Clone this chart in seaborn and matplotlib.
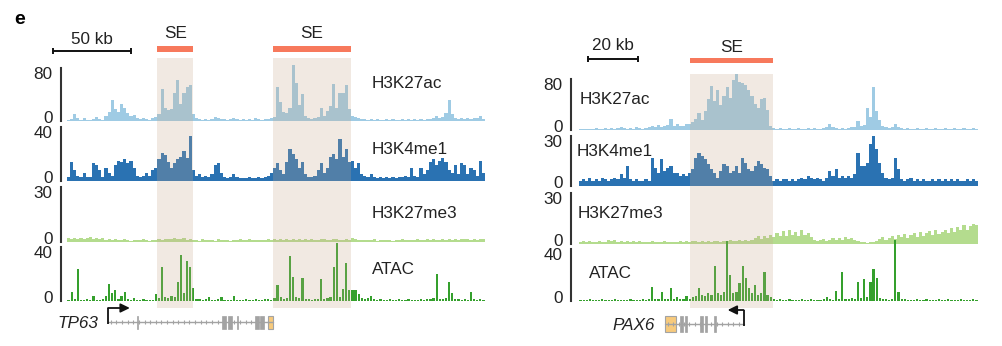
import numpy as np
import pandas as pd
import matplotlib
matplotlib.use("Agg")
import matplotlib.pyplot as plt
from matplotlib.patches import Rectangle
from matplotlib.transforms import ScaledTranslation
import seaborn as sns

sns.set_theme(style="white")
plt.rcParams["font.family"] = ["Liberation Sans", "DejaVu Sans"]

# ---------------- data ----------------
TRACKS = ["H3K27ac", "H3K4me1", "H3K27me3", "ATAC"]

# TP63 locus, 2 kb bins
TP63_BIN_KB = 2.0
tp63_h3k27ac = [
    2, 3, 10, 4, 2, 5, 2, 2, 3, 6,
    3, 2, 8, 14, 32, 18, 14, 26, 20, 12,
    8, 9, 4, 3, 5, 3, 2, 4, 6, 10,
    48, 20, 16, 18, 43, 62, 26, 43, 52, 54,
    10, 4, 3, 2, 3, 2, 3, 6, 4, 3,
    3, 2, 3, 4, 3, 2, 3, 2, 3, 2,
    4, 3, 2, 3, 3, 5, 6, 51, 28, 14,
    12, 20, 84, 58, 24, 41, 8, 4, 3, 4,
    6, 20, 8, 15, 22, 56, 20, 43, 43, 54,
    18, 8, 6, 4, 3, 3, 2, 3, 2, 3,
    2, 2, 3, 2, 3, 2, 2, 3, 2, 3,
    2, 3, 2, 3, 2, 3, 3, 4, 8, 5,
    6, 12, 32, 10, 5, 3, 4, 3, 4, 3,
    4, 5, 8, 3]
tp63_h3k4me1 = [
    3, 14, 8, 4, 3, 6, 3, 3, 13, 12,
    8, 3, 10, 6, 4, 12, 15, 14, 16, 13,
    15, 10, 4, 3, 4, 6, 4, 8, 10, 16,
    21, 19, 14, 10, 13, 16, 18, 22, 17, 33,
    8, 4, 5, 3, 4, 3, 5, 12, 13, 6,
    3, 2, 3, 5, 3, 2, 2, 2, 3, 2,
    2, 3, 2, 3, 4, 6, 10, 13, 8, 5,
    14, 24, 20, 16, 10, 14, 5, 3, 3, 4,
    8, 13, 6, 10, 18, 20, 16, 31, 18, 24,
    14, 15, 10, 13, 5, 4, 3, 5, 3, 2,
    3, 2, 3, 2, 3, 2, 3, 3, 4, 3,
    10, 4, 3, 10, 5, 8, 14, 16, 12, 15,
    17, 14, 8, 6, 12, 5, 13, 12, 5, 10,
    8, 4, 15, 6]
tp63_h3k27me3 = [
    2.0, 1.6, 2.4, 1.8, 2.2, 1.5, 2.0, 2.6, 1.7, 2.1,
    1.9, 2.3, 1.2, 1.6, 1.0, 1.4, 0.9, 1.3, 1.8, 1.0,
    0.8, 1.2, 1.0, 0.9, 1.4, 1.1, 0.8, 1.0, 1.3, 1.6,
    1.2, 1.9, 1.4, 1.7, 2.2, 1.5, 1.8, 2.0, 1.3, 1.6,
    1.0, 1.3, 0.8, 1.5, 0.9, 1.2, 1.0, 0.8, 1.4, 1.1,
    0.9, 1.2, 0.8, 1.3, 1.0, 1.5, 1.1, 0.9, 1.4, 1.2,
    1.0, 1.3, 0.9, 1.1, 1.5, 1.2, 1.6, 1.0, 1.4, 1.2,
    1.8, 1.1, 1.5, 1.3, 1.7, 1.0, 1.4, 1.2, 1.6, 1.3,
    1.1, 1.5, 1.8, 1.2, 1.0, 1.4, 1.9, 1.3, 1.1, 1.6,
    1.2, 2.0, 1.4, 1.0, 1.3, 0.9, 1.2, 1.0, 1.4, 0.8,
    1.1, 0.9, 1.3, 1.0, 0.8, 1.2, 1.0, 1.4, 0.9, 1.1,
    1.3, 1.0, 1.5, 1.1, 0.9, 1.4, 1.2, 1.6, 1.0, 1.3,
    1.5, 1.1, 1.7, 1.3, 1.9, 1.2, 1.6, 1.4, 1.8, 1.3,
    1.5, 1.2, 1.7, 1.4]
tp63_atac = [
    1.0, 7, 1.2, 23.5, 1.0, 0.8, 1.2, 1.0, 4, 1.0,
    0.8, 1.2, 4, 12.5, 6, 8, 1.5, 4, 7, 1.2,
    1.0, 2.5, 1.0, 0.8, 1.2, 1.0, 0.8, 1.0, 5, 2,
    25, 3, 2.5, 4, 3, 14, 34, 6, 30, 25,
    10, 1.5, 1.2, 1.0, 1.2, 3, 1.0, 0.8, 1.2, 3,
    1.0, 0.8, 1.0, 4, 1.0, 0.8, 1.0, 1.2, 0.8, 1.0,
    1.2, 0.8, 1.0, 1.2, 1.5, 1.0, 2, 12, 3, 1.5,
    2, 33, 18, 3, 2, 17, 1.5, 1.2, 1.0, 1.5,
    1.2, 16, 1.5, 2, 3, 25, 43, 3, 9, 28,
    8, 8, 8, 5, 2, 1.5, 2, 4, 1.2, 1.0,
    1.2, 0.8, 1.0, 1.2, 0.8, 1.0, 1.2, 0.8, 1.0, 1.2,
    1.0, 0.8, 1.0, 1.2, 1.0, 1.5, 1.2, 2, 20, 1.5,
    1.2, 2, 14, 6, 1.5, 1.2, 1.0, 1.2, 1.0, 7,
    1.2, 1.0, 1.2, 1.0]
tp63_ymax = [80, 40, 30, 40]
tp63_se = [(58.0, 81.0), (132.0, 182.0)]
tp63_tx = (26.3, 132.0)          # plus strand: TSS on the left
tp63_exons = [(44.6, 45.3), (99.5, 102.0), (103.0, 106.0), (108.8, 109.4),
              (120.5, 123.0), (124.0, 126.5)]
tp63_utr = [(128.8, 132.0)]

# PAX6 locus, 1.25 kb bins
PAX6_BIN_KB = 1.25
pax6_h3k27ac = [
    2, 2, 1, 2, 2, 3, 2, 2, 3, 2,
    3, 2, 3, 4, 3, 2, 3, 2, 5, 3,
    2, 3, 4, 7, 4, 8, 5, 6, 8, 17,
    7, 9, 6, 7, 9, 10, 12, 18, 27, 15,
    30, 48, 69, 45, 62, 40, 53, 67, 50, 79,
    88, 76, 73, 70, 62, 53, 41, 35, 48, 50,
    31, 6, 3, 2, 3, 2, 2, 3, 2, 2,
    3, 2, 2, 3, 2, 3, 2, 2, 3, 4,
    10, 4, 3, 2, 3, 2, 3, 4, 5, 14,
    6, 8, 34, 20, 67, 30, 15, 6, 4, 3,
    4, 10, 5, 3, 2, 3, 2, 2, 3, 2,
    2, 3, 2, 2, 3, 2, 2, 3, 2, 2,
    3, 2, 2, 3, 2, 2, 3, 2]
pax6_h3k4me1 = [
    3, 4, 3, 5, 3, 4, 3, 5, 4, 3,
    4, 5, 4, 7, 5, 12, 4, 3, 4, 3,
    3, 4, 3, 17, 11, 8, 16, 9, 11, 12,
    8, 8, 6, 7, 6, 8, 10, 17, 20, 18,
    16, 13, 10, 8, 5, 9, 13, 12, 8, 9,
    12, 8, 17, 14, 10, 9, 12, 15, 13, 11,
    10, 6, 3, 4, 3, 4, 4, 3, 4, 3,
    4, 5, 4, 6, 5, 4, 5, 4, 3, 5,
    9, 6, 10, 5, 6, 5, 6, 5, 7, 20,
    12, 12, 14, 25, 30, 22, 14, 8, 5, 4,
    5, 17, 10, 4, 3, 4, 5, 3, 4, 3,
    4, 3, 3, 4, 3, 4, 3, 4, 3, 4,
    3, 4, 3, 3, 4, 3, 4, 3]
pax6_h3k27me3 = [
    1.2, 1.6, 1.0, 1.8, 1.4, 1.1, 1.9, 1.3, 1.0, 2.2,
    1.5, 2.5, 1.2, 1.8, 1.4, 2.0, 1.1, 1.5, 1.3, 1.7,
    1.0, 1.4, 1.2, 1.6, 1.0, 1.3, 0.9, 1.5, 1.2, 1.0,
    1.4, 1.1, 1.6, 1.3, 1.9, 1.2, 1.5, 1.8, 1.3, 2.0,
    1.4, 1.7, 1.2, 1.6, 1.9, 1.3, 1.8, 1.5, 2.1, 1.6,
    1.9, 2.4, 1.7, 2.2, 1.8, 2.6, 3.5, 4.8, 3.2, 4.5,
    3.8, 5.2, 4.0, 6.5, 5.0, 7.8, 4.6, 8.5, 5.5, 7.2,
    4.8, 8.0, 5.2, 6.5, 4.0, 2.5, 1.8, 2.2, 2.8, 1.8,
    2.6, 3.5, 2.1, 3.8, 2.4, 4.2, 3.0, 3.6, 2.6, 1.8,
    1.2, 1.0, 0.8, 1.0, 1.2, 2.0, 3.0, 4.0, 2.5, 3.5,
    5.0, 3.2, 5.5, 4.0, 6.0, 3.8, 5.2, 6.2, 4.2, 7.0,
    5.0, 6.5, 7.5, 5.2, 8.0, 6.0, 7.2, 8.5, 6.2, 9.5,
    7.0, 10.0, 8.0, 11.0, 8.5, 10.5, 12.0, 11.0]
pax6_atac = [
    0.8, 1.0, 0.8, 1.2, 1.0, 0.8, 1.0, 1.2, 0.8, 1.0,
    1.0, 1.2, 0.8, 1.0, 1.0, 0.8, 1.2, 1.0, 0.8, 1.0,
    1.2, 1.0, 1.5, 11, 1.5, 1.2, 7, 1.5, 1.2, 10,
    1.5, 3, 1.2, 1.5, 4, 1.5, 3, 4, 10, 5,
    4, 6, 5, 27, 6, 5, 7, 46, 20, 6,
    7, 14, 27, 18, 10, 6, 12, 5, 6, 22,
    5, 3, 1.5, 1.0, 1.2, 0.8, 1.0, 1.2, 0.8, 1.0,
    1.0, 1.2, 0.8, 1.0, 1.2, 1.0, 0.8, 1.0, 1.2, 3,
    1.2, 1.0, 8, 1.5, 22, 1.5, 1.2, 2, 1.5, 15,
    2, 17, 3, 15, 25, 18, 2, 1.5, 1.2, 1.0,
    1.2, 47, 7, 1.5, 1.2, 1.0, 0.8, 1.0, 1.2, 0.8,
    1.0, 1.2, 0.8, 1.0, 1.0, 1.2, 0.8, 1.0, 1.2, 1.0,
    0.8, 1.0, 1.2, 1.0, 0.8, 1.0, 1.2, 1.0]
pax6_ymax = [80, 30, 30, 40]
pax6_se = [(44.4, 77.6)]
pax6_tx = (66.0, 34.4)           # minus strand: TSS on the right
pax6_exons = [(40.4, 41.6), (42.4, 43.2), (48.4, 49.6), (50.4, 51.2), (54.2, 54.8)]
pax6_utr = [(34.4, 38.8)]

# ---------------- style ----------------
COLORS = ["#9fcbe4", "#2a72b2", "#b4dc8e", "#35a02d"]
SHADE = "#c8a88c"
SE_RED = "#f7795c"
GENE_GRAY = "#a3a3a3"
UTR_YELLOW = "#f7ca7c"
INK = "#222222"
FS = 12.3

W, H = 1002, 346
fig = plt.figure(figsize=(W / 100, H / 100), dpi=100)
fig.patch.set_facecolor("white")


def px_axes(x0, y0, x1, y1):
    """Axes placed by pixel box (y measured from the top)."""
    return fig.add_axes([x0 / W, 1 - y1 / H, (x1 - x0) / W, (y1 - y0) / H])


def draw_track(panel, values, bin_kb, length_kb, vmax, color, bracket, as_bars):
    x0, x1, spine_x = panel
    ytop, ybot = bracket
    head = 1.35
    ax = px_axes(x0, ybot - (ybot - ytop) * head, x1, ybot)
    ax.patch.set_alpha(0)
    n = len(values)
    df = pd.DataFrame({"pos": (np.arange(n) + 0.5) * bin_kb,
                       "signal": np.asarray(values, dtype=float)})
    common = dict(data=df, x="pos", weights="signal", binwidth=bin_kb,
                  binrange=(0, n * bin_kb), fill=True, color=color, alpha=1,
                  linewidth=0, ax=ax)
    if as_bars:
        sns.histplot(element="bars", shrink=0.7, **common)
    else:
        sns.histplot(element="step", **common)
    ax.set_xlim(0, length_kb)
    ax.set_ylim(0, vmax * head)
    ax.set(xlabel="", ylabel="")
    ax.set_xticks([])
    for s in ("top", "right", "bottom"):
        ax.spines[s].set_visible(False)
    sp = ax.spines["left"]
    sp.set_position(("outward", (x0 - spine_x) * 0.72))
    sp.set_bounds(0, vmax)
    sp.set_color("#333333")
    sp.set_linewidth(1.5)
    ax.set_yticks([0, vmax])
    ax.set_yticklabels(["0", str(vmax)])
    ax.tick_params(axis="y", direction="out", length=3.5, width=1.5,
                   color="#333333", pad=2.5, labelsize=FS, labelcolor=INK)
    for lab, dy in zip(ax.get_yticklabels(), [0.04, -0.05]):
        lab.set_transform(lab.get_transform() +
                          ScaledTranslation(0, dy, fig.dpi_scale_trans))
    return ax


def draw_panel(panel, length_kb, bin_kb, series, ymaxes, brackets,
               label_xy, se_regions, se_bar_y, se_text_y, shade_y,
               scalebar, gene):
    x0, x1, _ = panel
    for i, (vals, vmax) in enumerate(zip(series, ymaxes)):
        draw_track(panel, vals, bin_kb, length_kb, vmax, COLORS[i],
                   brackets[i], as_bars=(TRACKS[i] == "ATAC"))
        lx, ly = label_xy[i]
        fig.text(lx / W, 1 - ly / H, TRACKS[i], fontsize=FS, color=INK,
                 ha="left", va="center")

    # overlay in kb (x) and figure pixels (y)
    ov = px_axes(x0, 0, x1, H)
    ov.set_xlim(0, length_kb)
    ov.set_ylim(H, 0)
    ov.axis("off")
    ov.patch.set_alpha(0)

    for s, e in se_regions:
        ov.add_patch(Rectangle((s, shade_y[0]), e - s, shade_y[1] - shade_y[0],
                               facecolor=SHADE, alpha=0.25, lw=0, clip_on=False))
        ov.add_patch(Rectangle((s, se_bar_y[0]), e - s, se_bar_y[1] - se_bar_y[0],
                               facecolor=SE_RED, lw=0, clip_on=False))
        ov.text((s + e) / 2, se_text_y, "SE", fontsize=FS, color=INK,
                ha="center", va="center")

    sb_start, sb_len, sb_y, sb_text_y, sb_label = scalebar
    ov.plot([sb_start, sb_start + sb_len], [sb_y, sb_y], color="#111111",
            lw=1.4, marker="|", ms=5, mew=1.4, clip_on=False)
    ov.text(sb_start + sb_len / 2, sb_text_y, sb_label, fontsize=FS,
            color=INK, ha="center", va="center")

    name, tx, exons, utrs, gy, box_h, name_x, arrow_len, arrow_top, tick_kb = gene
    tss, tes = tx
    lo, hi = min(tss, tes), max(tss, tes)
    ov.plot([lo, hi], [gy, gy], color=GENE_GRAY, lw=1.0, clip_on=False)
    ticks = np.arange(lo + tick_kb / 2, hi, tick_kb)
    ov.plot(ticks, np.full(len(ticks), gy), ls="none", marker="|", ms=2.5,
            mew=0.8, color=GENE_GRAY, clip_on=False)
    for s, e in exons:
        ov.add_patch(Rectangle((s, gy - box_h / 2), e - s, box_h,
                               facecolor=GENE_GRAY, edgecolor=GENE_GRAY,
                               lw=0.5, clip_on=False))
    for s, e in utrs:
        ov.add_patch(Rectangle((s, gy - box_h / 2), e - s, box_h,
                               facecolor=UTR_YELLOW, edgecolor=GENE_GRAY,
                               lw=0.8, clip_on=False))
    direction = 1 if tes > tss else -1
    ov.plot([tss, tss], [gy + 2, arrow_top], color="#111111", lw=1.3,
            clip_on=False, solid_capstyle="butt")
    ov.annotate("", xy=(tss + direction * arrow_len, arrow_top),
                xytext=(tss, arrow_top), annotation_clip=False,
                arrowprops=dict(arrowstyle="-|>,head_length=0.45,head_width=0.22",
                                color="#111111", lw=1.3, shrinkA=0, shrinkB=0))
    fig.text(name_x / W, 1 - (gy + 1) / H, name, fontsize=FS, style="italic",
             color=INK, ha="left", va="center")


# TP63 panel
draw_panel(
    panel=(67, 485, 61), length_kb=len(tp63_h3k27ac) * TP63_BIN_KB,
    bin_kb=TP63_BIN_KB,
    series=[tp63_h3k27ac, tp63_h3k4me1, tp63_h3k27me3, tp63_atac],
    ymaxes=tp63_ymax,
    brackets=[(68, 121), (127, 181), (187, 242), (247, 301)],
    label_xy=[(372, 83), (372, 150), (372, 213), (372, 269)],
    se_regions=tp63_se, se_bar_y=(46, 52), se_text_y=33, shade_y=(58, 308),
    scalebar=(-9.0, 50, 51, 39, "50 kb"),
    gene=("TP63", tp63_tx, tp63_exons, tp63_utr, 322, 13, 57, 14.0, 308, 3.6),
)

# PAX6 panel
draw_panel(
    panel=(579, 978, 571), length_kb=len(pax6_h3k27ac) * PAX6_BIN_KB,
    bin_kb=PAX6_BIN_KB,
    series=[pax6_h3k27ac, pax6_h3k4me1, pax6_h3k27me3, pax6_atac],
    ymaxes=pax6_ymax,
    brackets=[(79, 130), (136, 186), (193, 244), (249, 301)],
    label_xy=[(580, 100), (577, 151), (578, 213), (589, 273)],
    se_regions=pax6_se, se_bar_y=(58, 63), se_text_y=47, shade_y=(74, 308),
    scalebar=(3.6, 20, 59, 46, "20 kb"),
    gene=("PAX6", pax6_tx, pax6_exons, pax6_utr, 324, 16, 612, 6.4, 310, 2.2),
)

fig.text(20 / W, 1 - 19 / H, "e", fontsize=14, fontweight="bold",
         color="black", ha="center", va="center")

fig.savefig("out.png", dpi=100, facecolor="white")
